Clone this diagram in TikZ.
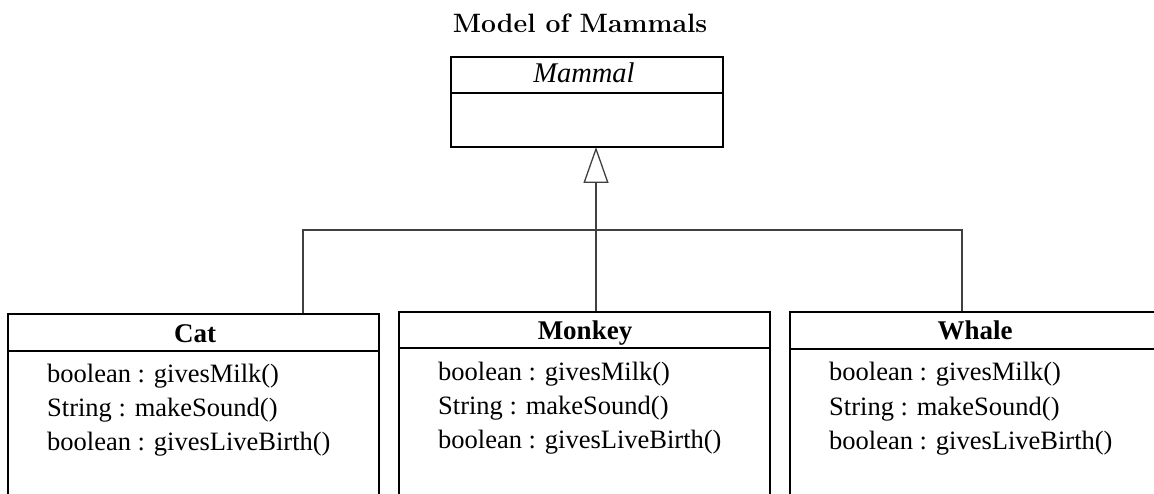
\documentclass[tikz,border=0pt]{standalone}
\usepackage{fontspec}
\newfontfamily\tnr{Liberation Serif}
\usetikzlibrary{arrows.meta}
\begin{document}
\begin{tikzpicture}[x=1pt,y=-1pt,
  classbox/.style={draw, line width=1.6pt, rectangle, inner sep=0pt},
  member/.style={anchor=base west, inner sep=0pt, font=\tnr\fontsize{26.5}{30}\selectfont},
  header/.style={anchor=base, inner sep=0pt, font=\tnr\bfseries\fontsize{27}{30}\selectfont},
  conn/.style={line width=1.3pt, draw=black!75},
  inh/.style={conn, -{Triangle[open, length=36pt, width=25pt, line width=1.3pt]}}]
\useasboundingbox (0,0) rectangle (1154,494);
\clip (0,0) rectangle (1154,494);
% title
\node[anchor=base, inner sep=0pt, font=\bfseries\fontsize{26.6}{30}\selectfont] (title) at (580,33) {Model of Mammals};
% Mammal
\node[classbox, minimum width=272pt, minimum height=90pt] (mammal) at (587,102) {};
\node[anchor=base, inner sep=0pt, font=\tnr\itshape\fontsize{28.5}{30}\selectfont] (mname) at (584,83) {Mammal};
\draw[line width=1.6pt] (mammal.west |- 0,93) -- (mammal.east |- 0,93);
% Cat
\node[classbox, minimum width=371pt, minimum height=216pt] (cat) at (193.5,422) {};
\draw[line width=1.6pt] (cat.west |- 0,351) -- (cat.east |- 0,351);
\node[header] (catname) at (195,342) {Cat};
\node[member] (c1) at (47,382) {boolean : givesMilk()};
\node[member] (c2) at (47,416) {String : makeSound()};
\node[member] (c3) at (47,450) {boolean : givesLiveBirth()};
% Monkey
\node[classbox, minimum width=371pt, minimum height=218pt] (monkey) at (584.5,421) {};
\draw[line width=1.6pt] (monkey.west |- 0,348) -- (monkey.east |- 0,348);
\node[header] (monkeyname) at (585,339) {Monkey};
\node[member] (m1) at (438,380) {boolean : givesMilk()};
\node[member] (m2) at (438,414) {String : makeSound()};
\node[member] (m3) at (438,448) {boolean : givesLiveBirth()};
% Whale
\node[classbox, minimum width=371pt, minimum height=218pt] (whale) at (975.5,421) {};
\draw[line width=1.6pt] (whale.west |- 0,349) -- (whale.east |- 0,349);
\node[header] (whalename) at (975,340) {Whale};
\node[member] (w1) at (829,381) {boolean : givesMilk()};
\node[member] (w2) at (829,415) {String : makeSound()};
\node[member] (w3) at (829,449) {boolean : givesLiveBirth()};
% connectors
\coordinate (apex) at (596,147);
\coordinate (jc) at (303,230);
\coordinate (jw) at (962,230);
\draw[inh] (monkey.north -| apex) -- (apex);
\draw[conn] (cat.north -| jc) -- (jc) -- (jw) -- (whale.north -| jw);
\end{tikzpicture}
\end{document}
